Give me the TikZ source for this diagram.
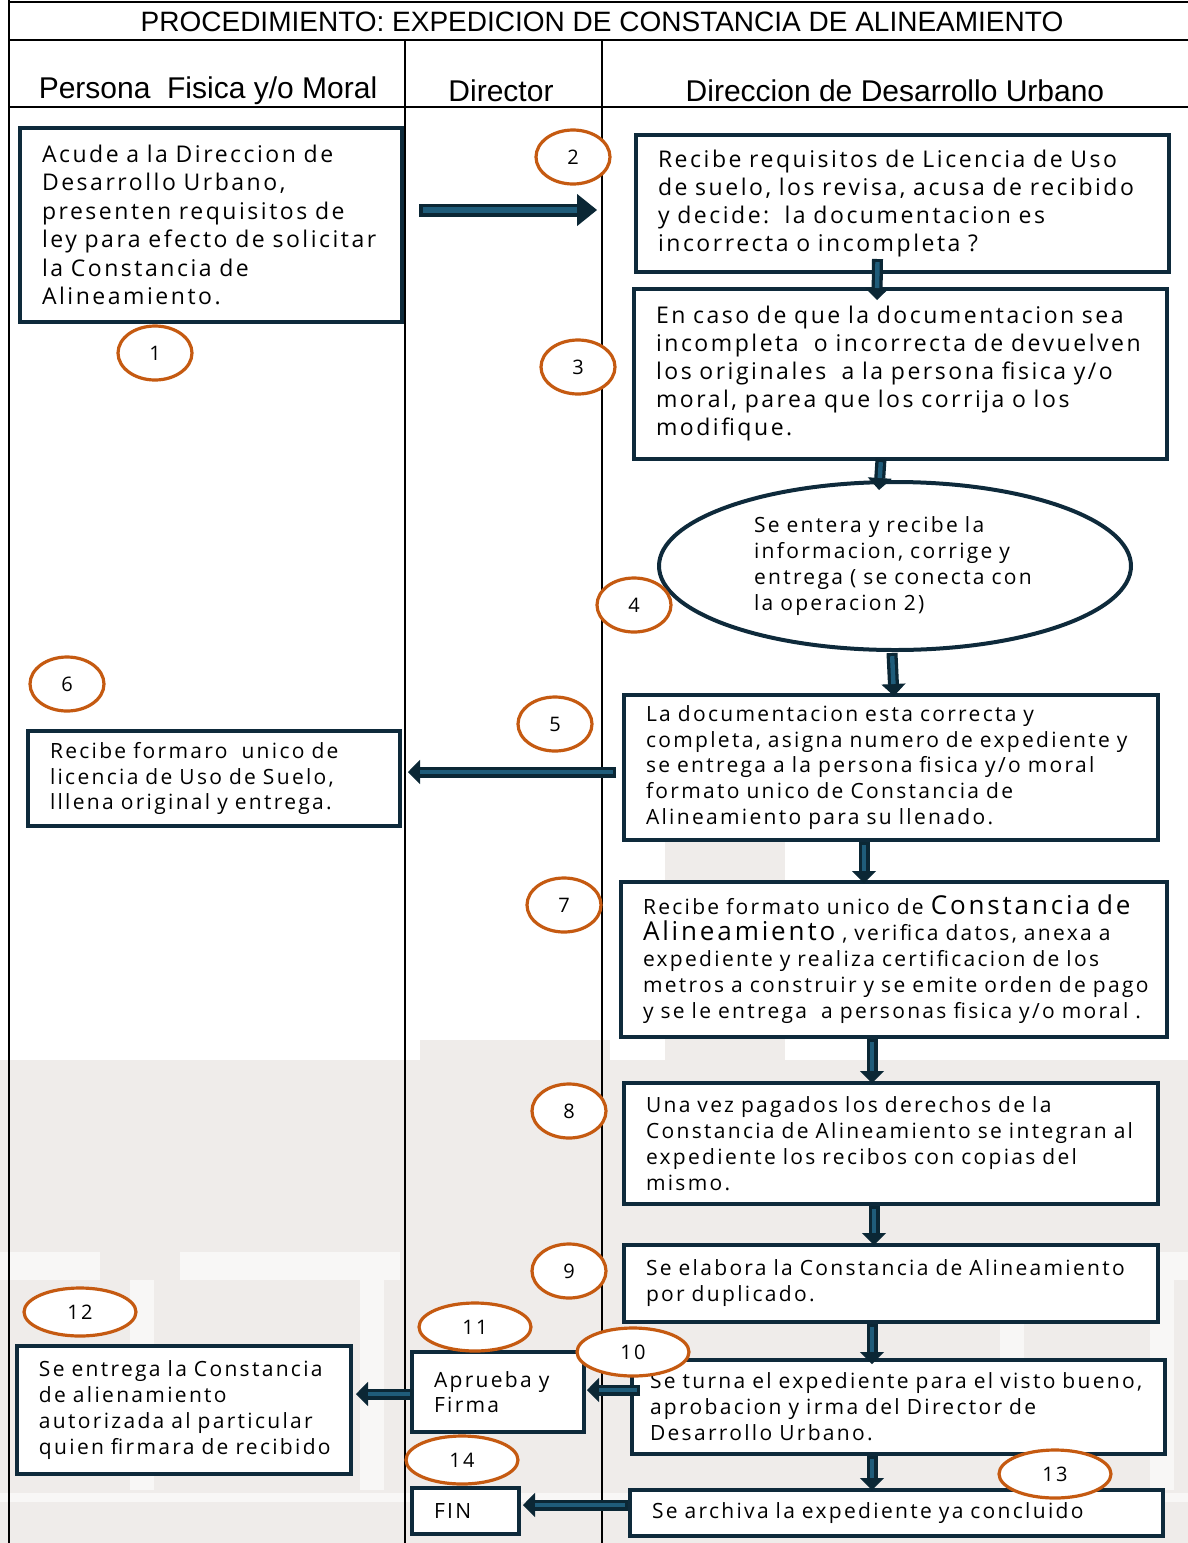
\documentclass[tikz,border=0pt]{standalone}
\usepackage{fontspec}
\setmainfont{Open Sans}[LetterSpace=11, WordSpace=0.7]
\newfontfamily\headfont{Liberation Sans}
\usetikzlibrary{positioning, calc, arrows.meta, shapes.geometric}

\definecolor{boxline}{HTML}{0E2A3B}
\definecolor{arrowdark}{HTML}{0B2735}
\definecolor{arrowteal}{HTML}{1F5C7A}
\definecolor{numline}{HTML}{C55A11}
\definecolor{wmgray}{HTML}{EFECEA}
\definecolor{wmlight}{HTML}{F8F7F6}

\begin{document}
\begin{tikzpicture}[x=0.5pt, y=-0.5pt,
    box/.style={draw=boxline, line width=2pt, fill=white, rectangle, anchor=north west,
        align=left, inner xsep=11pt, inner ysep=3pt, font=\fontsize{10.5}{13.5}\selectfont},
    lane/.style={font=\headfont\fontsize{15}{17}\selectfont},
    num/.style={ellipse, draw=numline, line width=1.6pt, fill=white, minimum width=37pt,
        minimum height=27pt, inner sep=0pt, font=\fontsize{10}{12}\selectfont},
    widenum/.style={num, minimum width=56pt, minimum height=24pt},
    flow/.style={draw=arrowdark, line width=5.5pt,
        -{Triangle[length=6pt, width=12pt, line width=0.5pt]},
        postaction={draw=arrowteal, line width=2.2pt, arrows=-, shorten >=6pt, shorten <=1.6pt}},
    bigflow/.style={draw=arrowdark, line width=6.5pt,
        -{Triangle[length=10pt, width=16pt, line width=0.5pt]},
        postaction={draw=arrowteal, line width=2.8pt, arrows=-, shorten >=10pt, shorten <=1.8pt}}
]
    \useasboundingbox (0,0) rectangle (1188,1543);

    % Watermark in the back
    \fill[wmgray] (0,1060) rectangle (1188,1543);
    \fill[wmgray] (665,795) rectangle (785,1060);
    \fill[wmgray] (420,1040) rectangle (610,1060);
    \fill[wmlight] (0,1252) rectangle (100,1280);
    \fill[wmlight] (180,1252) rectangle (400,1280);
    \fill[wmlight] (990,1252) rectangle (1188,1280);
    \foreach \cx in {130,360,1000,1150} {
        \fill[wmlight] (\cx,1280) rectangle ++(24,210);
    }
    \fill[wmlight] (0,1493) rectangle (1188,1502);

    % Frame and lanes
    \draw[line width=1pt] (9,2) -- (1188,2);
    \draw[line width=1pt] (9,40) -- (1188,40);
    \draw[line width=1pt] (9,107) -- (1188,107);
    \draw[line width=1pt] (9,0) -- (9,1543);
    \draw[line width=1pt] (405,40) -- (405,1543);
    \draw[line width=1pt] (602,40) -- (602,1543);

    \node[lane, font=\headfont\fontsize{14}{16}\selectfont] (title) at (602,22) {PROCEDIMIENTO: EXPEDICION DE CONSTANCIA DE ALINEAMIENTO};
    \node[lane] (lane1) at (208,91) {Persona\ \ Fisica y/o Moral};
    \node[lane] (lane2) at (501,91) {Director};
    \node[lane] (lane3) at (895,91) {Direccion de Desarrollo Urbano};

    % Steps
    \node[box, minimum width=191pt, minimum height=97pt, text width=169pt,
        font=\fontsize{11.5}{14.25}\selectfont] (b1) at (18,126)
        {Acude a la Direccion de\\ Desarrollo Urbano,\\ presenten requisitos de\\ ley para efecto de solicitar\\ la Constancia de\\ Alineamiento.};
    \node[box, minimum width=266.5pt, minimum height=68.5pt, text width=244.5pt,
        font=\fontsize{11.5}{14}\selectfont] (b2) at (634,133)
        {Recibe requisitos de Licencia de Uso\\ de suelo, los revisa, acusa de recibido\\ y decide:\ \ la documentacion es\\ incorrecta o incompleta ?};
    \node[box, minimum width=266.5pt, minimum height=85pt, text width=244.5pt,
        font=\fontsize{11.5}{14}\selectfont] (b3) at (632,287)
        {En caso de que la documentacion sea\\ incompleta\ \ o incorrecta de devuelven\\ los originales\ \ a la persona fisica y/o\\ moral, parea que los corrija o los\\ modifique.};
    \node[ellipse, draw=boxline, line width=2pt, fill=white, minimum width=236pt,
        minimum height=84pt, text width=141pt, align=left,
        font=\fontsize{10.5}{13}\selectfont] (b4) at (895,566)
        {Se entera y recibe la\\ informacion, corrige y\\ entrega ( se conecta con\\ la operacion 2)};
    \node[box, minimum width=267pt, minimum height=72.5pt, text width=245pt,
        font=\fontsize{10.5}{12.8}\selectfont] (b5) at (622,693)
        {La documentacion esta correcta y\\ completa, asigna numero de expediente y\\ se entrega a la persona fisica y/o moral\\ formato unico de Constancia de\\ Alineamiento para su llenado.};
    \node[box, minimum width=186pt, minimum height=47.5pt, text width=164pt,
        font=\fontsize{10.5}{12.8}\selectfont] (b6) at (26,729)
        {Recibe formaro\ \ unico de\\ licencia de Uso de Suelo,\\ lllena original y entrega.};
    \node[box, minimum width=273pt, minimum height=77.5pt, text width=251pt,
        font=\fontsize{10.5}{13}\selectfont] (b7) at (619,880)
        {Recibe formato unico de {\fontsize{13}{13}\selectfont Constancia de}\\ {\fontsize{13}{15}\selectfont Alineamiento} , verifica datos, anexa a\\ expediente y realiza certificacion de los\\ metros a construir y se emite orden de pago\\ y se le entrega\ \ a personas fisica y/o moral .};
    \node[box, minimum width=267pt, minimum height=60.5pt, text width=245pt,
        font=\fontsize{10.5}{13}\selectfont] (b8) at (622,1081)
        {Una vez pagados los derechos de la\\ Constancia de Alineamiento se integran al\\ expediente los recibos con copias del\\ mismo.};
    \node[box, minimum width=267pt, minimum height=38.5pt, text width=245pt,
        font=\fontsize{10.5}{13}\selectfont] (b9) at (622,1243)
        {Se elabora la Constancia de Alineamiento\\ por duplicado.};
    \node[box, minimum width=266.5pt, minimum height=47pt, text width=248.5pt,
        inner xsep=9pt, font=\fontsize{10.5}{13}\selectfont] (b10) at (630,1358)
        {Se turna el expediente para el visto bueno,\\ aprobacion y irma del Director de\\ Desarrollo Urbano.};
    \node[box, minimum width=86pt, minimum height=40pt, text width=64pt,
        font=\fontsize{10.5}{12.5}\selectfont] (b11) at (410,1350)
        {Aprueba y\\ Firma};
    \node[box, minimum width=167pt, minimum height=64pt, text width=145pt,
        font=\fontsize{10.5}{13}\selectfont] (b12) at (15,1344)
        {Se entrega la Constancia\\ de alienamiento\\ autorizada al particular\\ quien firmara de recibido};
    \node[box, minimum width=266.5pt, minimum height=23pt, text width=244.5pt,
        font=\fontsize{10.5}{13}\selectfont] (b13) at (628,1488)
        {Se archiva la expediente ya concluido};
    \node[box, minimum width=53.5pt, minimum height=23pt, text width=31.5pt,
        font=\fontsize{10.5}{13}\selectfont] (fin) at (410,1486)
        {FIN};

    % Connectors
    \draw[bigflow] ($(b1.east)+(15,-15)$) -- ($(b2.west)+(-37,6.5)$);
    \draw[flow] ($(b2.south)+(-25,-15)$) -- ($(b3.north)+(-23.5,13)$);
    \draw[flow] ($(b3.south)+(-19.5,-2)$) -- ($(b4.north)+(-16,10)$);
    \draw[flow] ($(b4.south)+(-3,1)$) -- ($(b5.north)+(3,3)$);
    \draw[flow] ($(b5.west)+(-6,4.5)$) -- ($(b6.east)+(6,-6.5)$);
    \draw[flow] ($(b5.south)+(-27,0)$) -- ($(b7.north)+(-30,3)$);
    \draw[flow] ($(b7.south)+(-22,0)$) -- ($(b8.north)+(-19,2)$);
    \draw[flow] ($(b8.south)+(-17,0)$) -- ($(b9.north)+(-17,2)$);
    \draw[flow] ($(b9.south)+(-19,0)$) -- ($(b10.north)+(-26.5,6)$);
    \draw[flow] ($(b10.west)+(10,-17)$) -- ($(b11.east)+(1,-2)$);
    \draw[flow] ($(b11.west)+(3,2)$) -- ($(b12.east)+(3,-16)$);
    \draw[flow] ($(b10.south)+(-26.5,0)$) -- ($(b13.north)+(-24.5,2)$);
    \draw[flow] ($(b13.west)+(0,-8)$) -- ($(fin.east)+(2,-6)$);

    % Step numbers
    \node[num] (n1) at (155,353) {1};
    \node[num] (n2) at (573,157) {2};
    \node[num] (n3) at (578,367) {3};
    \node[num] (n4) at (634,605) {4};
    \node[num] (n5) at (555,724) {5};
    \node[num] (n6) at (67,684) {6};
    \node[num] (n7) at (564,905) {7};
    \node[num] (n8) at (569,1111) {8};
    \node[num] (n9) at (569,1271) {9};
    \node[widenum] (n10) at (633,1352) {10};
    \node[widenum] (n11) at (475,1327) {11};
    \node[widenum] (n12) at (80,1312) {12};
    \node[widenum] (n13) at (1055,1474) {13};
    \node[widenum] (n14) at (462,1460) {14};
\end{tikzpicture}
\end{document}
